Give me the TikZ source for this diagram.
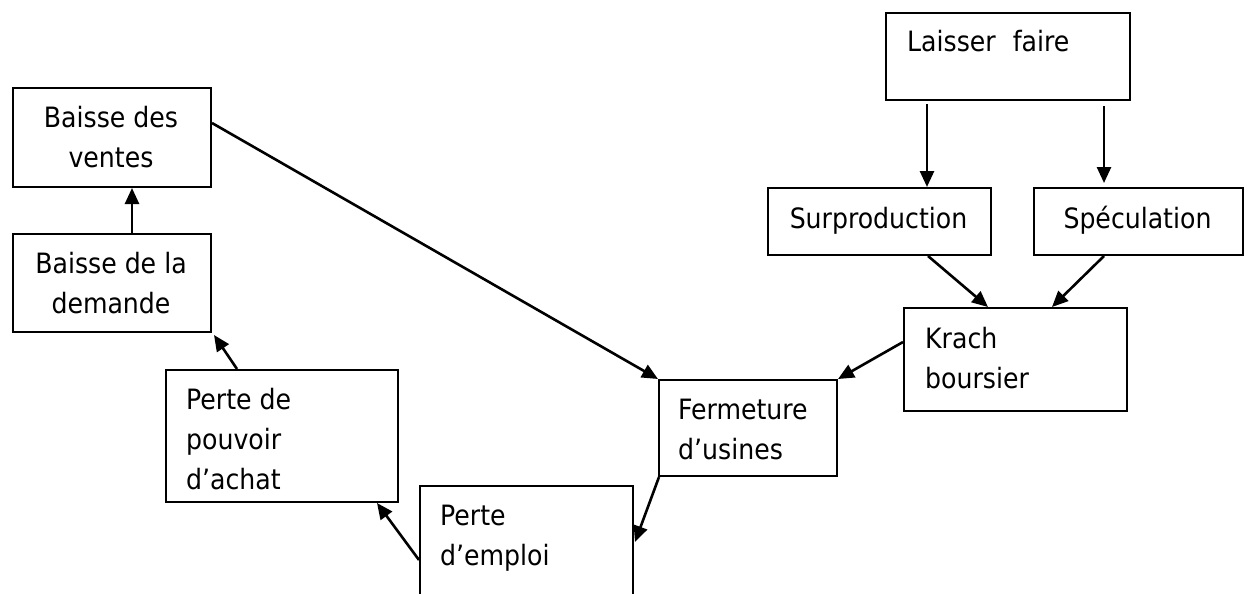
\documentclass[tikz,border=0pt]{standalone}
\usepackage{fontspec}
\setmainfont{DejaVu Sans Condensed}
\usetikzlibrary{arrows.meta}
\begin{document}
\begin{tikzpicture}[x=1pt,y=-1pt,
  box/.style={draw,line width=2pt,inner sep=0pt,anchor=north west},
  txt/.style={inner sep=0pt,align=left,anchor=base west,font=\fontsize{28}{40}\selectfont},
  ctxt/.style={txt,align=center,anchor=base},
  link/.style={line width=2.6pt,-{Triangle[length=16pt,width=14pt]}}]
  % page frame
  \clip (0,0) rectangle (1248,594);
  \fill[white] (0,0) rectangle (1248,594);

  % boxes
  \node[box,minimum width=198pt,minimum height=99pt]  (ventes)    at (12,87)   {};
  \node[box,minimum width=198pt,minimum height=98pt]  (demande)   at (12,233)  {};
  \node[box,minimum width=232pt,minimum height=132pt] (pouvoir)   at (165,369) {};
  \node[box,minimum width=213pt,minimum height=130pt] (emploi)    at (419,485) {};
  \node[box,minimum width=178pt,minimum height=96pt]  (fermeture) at (658,379) {};
  \node[box,minimum width=223pt,minimum height=103pt] (krach)     at (903,307) {};
  \node[box,minimum width=244pt,minimum height=87pt]  (laisser)   at (885,12)  {};
  \node[box,minimum width=223pt,minimum height=67pt]  (surpro)    at (767,187) {};
  \node[box,minimum width=209pt,minimum height=67pt]  (spec)      at (1033,187) {};

  % labels (placed on the baseline of their last line)
  \node[ctxt] (tventes)    at (111,167)   {Baisse des\\ventes};
  \node[ctxt] (tdemande)   at (111,313)   {Baisse de la\\demande};
  \node[txt]  (tpouvoir)   at (186,489)   {Perte de\\pouvoir\\d’achat};
  \node[txt]  (temploi)    at (440,565)   {Perte\\d’emploi};
  \node[txt]  (tfermeture) at (678,459)   {Fermeture\\d’usines};
  \node[txt]  (tkrach)     at (925,388)   {Krach\\boursier};
  \node[txt]  (tlaisser)   at (907,52)    {Laisser\hspace{17pt}faire};
  \node[ctxt] (tsurpro)    at (878.5,228) {Surproduction};
  \node[ctxt] (tspec)      at (1137.5,228) {Spéculation};

  % causal links
  \draw[link] ([xshift=20pt]demande.north) -- ([xshift=20pt]ventes.south);
  \draw[link] ([xshift=72pt]pouvoir.north west) -- ([xshift=2pt,yshift=-2pt]demande.south east);
  \draw[link] ([yshift=-75pt]emploi.north west) -- ([xshift=-22pt]pouvoir.south east);
  \draw[link] ([xshift=1pt]fermeture.south west) -- ([xshift=1pt,yshift=-57pt]emploi.north east);
  \draw[link] ([yshift=-36pt]ventes.north east) -- (fermeture.north west);
  \draw[link] ([yshift=-35pt]krach.north west) -- (fermeture.north east);
  \draw[link] ([xshift=48.5pt]surpro.south) -- ([xshift=85pt]krach.north west);
  \draw[link] ([xshift=-34.5pt]spec.south) -- ([xshift=149pt]krach.north west);
  \draw[link] ([xshift=-81pt,yshift=-3pt]laisser.south) -- ([xshift=47.5pt]surpro.north);
  \draw[link] ([xshift=96pt,yshift=-5pt]laisser.south) -- ([xshift=-34.5pt,yshift=4pt]spec.north);
\end{tikzpicture}
\end{document}
